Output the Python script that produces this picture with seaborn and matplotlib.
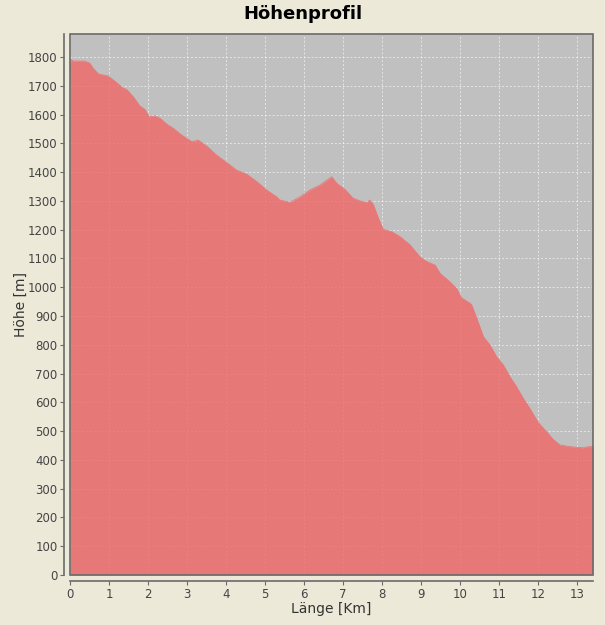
import matplotlib
matplotlib.use("Agg")
import matplotlib.pyplot as plt
import seaborn as sns
import pandas as pd
from matplotlib.patches import Rectangle

# elevation profile
km = [0.0, 0.02, 0.08, 0.38, 0.51, 0.60, 0.73, 0.98, 1.15, 1.37, 1.45, 1.62, 1.79,
      1.92, 2.03, 2.18, 2.31, 2.48, 2.65, 2.86, 3.12, 3.29, 3.50, 3.76, 4.02, 4.27,
      4.53, 4.79, 5.04, 5.30, 5.38, 5.64, 5.90, 6.15, 6.41, 6.71, 6.84, 7.05, 7.26,
      7.44, 7.61, 7.69, 7.78, 7.91, 8.03, 8.25, 8.46, 8.72, 8.97, 9.15, 9.36, 9.49,
      9.74, 9.91, 10.04, 10.26, 10.30, 10.43, 10.60, 10.77, 10.94, 11.11, 11.28,
      11.45, 11.62, 11.79, 12.01, 12.22, 12.39, 12.56, 12.82, 13.16, 13.29, 13.41]
hoehe = [1731, 1791, 1786, 1786, 1778, 1760, 1741, 1734, 1716, 1691, 1688, 1662, 1630,
         1618, 1592, 1595, 1587, 1567, 1552, 1529, 1506, 1511, 1491, 1459, 1433, 1407,
         1393, 1367, 1338, 1314, 1303, 1295, 1314, 1338, 1355, 1384, 1361, 1340, 1309,
         1300, 1294, 1303, 1286, 1239, 1201, 1193, 1176, 1147, 1106, 1089, 1077, 1048,
         1019, 996, 963, 944, 938, 892, 828, 799, 758, 730, 689,
         654, 614, 579, 529, 498, 471, 452, 446, 442, 446, 446]

x_ticks = list(range(0, 14))
y_ticks = list(range(0, 1801, 100))

df = pd.DataFrame({"km": km, "hoehe": hoehe})

sns.set_theme(style="white")
plt.rcParams["font.family"] = ["DejaVu Sans"]

bg = "#ECE9D8"
fig = plt.figure(figsize=(6.05, 6.25), dpi=100, facecolor=bg)
ax = fig.add_axes([70 / 605, 1 - 575 / 625, 523 / 605, 541 / 625])
ax.set_facecolor("#C0C0C0")

ax.fill_between(df["km"], df["hoehe"], 0, color="#F26666", alpha=0.8, lw=0, zorder=3)
sns.lineplot(data=df, x="km", y="hoehe", ax=ax, color="#E87878", lw=0.6, zorder=4)

ax.set_xlim(0, 13.41)
ax.set_ylim(0, 1880)
ax.set_xticks(x_ticks)
ax.set_yticks(y_ticks)
ax.grid(True, color="white", ls=(0, (2, 2)), lw=0.7, alpha=0.6, zorder=2)
ax.set_axisbelow(True)

for side in ["top", "right"]:
    ax.spines[side].set_visible(False)
for side in ["left", "bottom"]:
    ax.spines[side].set_position(("outward", 4))
    ax.spines[side].set_color("#6A6A6A")
    ax.spines[side].set_linewidth(1.2)
ax.add_patch(Rectangle((0, 0), 1, 1, transform=ax.transAxes, fill=False,
                       ec="#6A6A6A", lw=1.2, zorder=6, clip_on=False))

ax.tick_params(axis="both", direction="out", length=3, width=0.8, color="#6A6A6A",
               labelsize=8.5, labelcolor="#444444", pad=2, left=True, bottom=True)

ax.set_xlabel("Länge [Km]", fontsize=10, color="#333333", labelpad=1)
ax.set_ylabel("Höhe [m]", fontsize=10, color="#333333", labelpad=0)
fig.text(0.5, 1 - 14 / 625, "Höhenprofil", ha="center", va="center",
         fontsize=13, fontweight="bold", color="black")

fig.savefig("out.png", dpi=100, facecolor=bg)
